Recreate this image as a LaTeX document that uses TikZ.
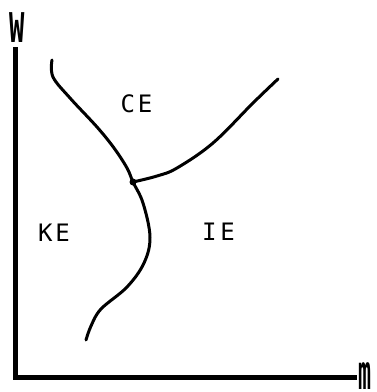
\documentclass[tikz,border=0pt]{standalone}
\usepackage{fontspec}
\setmainfont{DejaVu Sans}
\newfontfamily\plotfont{DejaVu Sans Mono}
\usepackage{tikz}
\usepackage{xcolor}

\begin{document}
\begin{tikzpicture}[x=1pt, y=-1pt,
    axis/.style={line width=5pt},
    boundary/.style={line width=3pt, line cap=round, line join=round},
    region/.style={font=\plotfont\fontsize{24}{24}\selectfont, inner sep=0pt}]

    % Frame
    \useasboundingbox (0,0) rectangle (376,392);

    % Axes
    \coordinate (origin) at (15,377);
    \coordinate (wtop) at (15,47);
    \coordinate (mend) at (357,377);
    \draw[axis] (wtop) -- (origin) -- (mend);

    % Axis labels
    \node[inner sep=0pt] (wlabel) at (17,28) {\scalebox{0.62}[1]{\plotfont\bfseries\fontsize{41}{41}\selectfont W}};
    \node[inner sep=0pt, anchor=south] (mlabel) at (365,390) {\scalebox{0.9}[2.0]{\plotfont\bfseries\fontsize{24}{24}\selectfont m}};

    % Triple point
    \coordinate (triple) at (133,182);
    \coordinate (ktop) at (52,60);
    \coordinate (kbot) at (86,340);
    \coordinate (cend) at (278,79);

    % Phase boundaries
    \draw[boundary] plot[smooth, tension=0.6] coordinates {(ktop) (53,77) (70,98) (97,127) (114,148) (127,168) (triple)
        (143,203) (150,237) (144,263) (127,287) (101,309) (91,326) (kbot)};
    \draw[boundary] plot[smooth, tension=0.6] coordinates {(triple) (157,176) (177,168) (213,143) (253,103) (cend)};
    \fill (triple) circle (3.5);

    % Regions
    \node[region] (ce) at (136.5,104) {C\hspace{3pt}E};
    \node[region] (ke) at (54,233) {K\hspace{3pt}E};
    \node[region] (ie) at (218.5,232) {I\hspace{4pt}E};

\end{tikzpicture}
\end{document}
